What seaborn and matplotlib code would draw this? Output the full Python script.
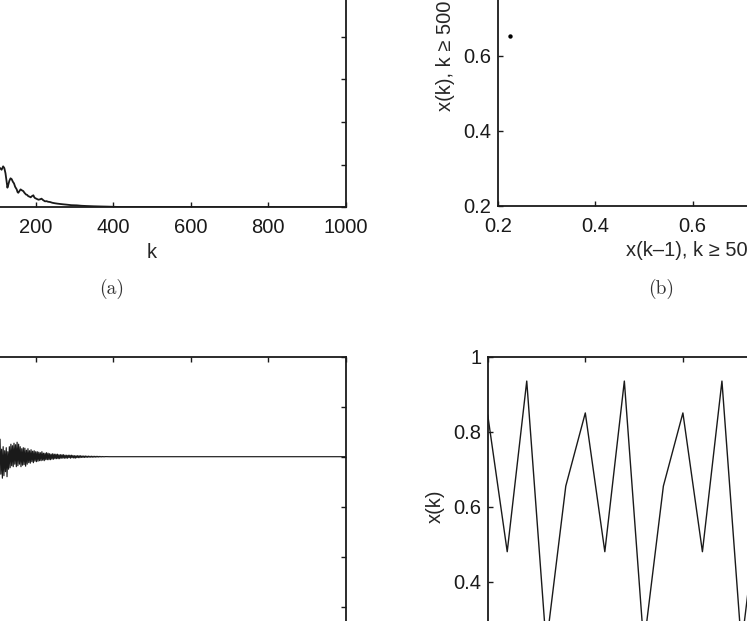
import numpy as np
import pandas as pd
import matplotlib
matplotlib.use("Agg")
import matplotlib.pyplot as plt
import seaborn as sns

# ---------------- data ----------------
# (a) decaying curve vs k
k_a = [100, 104, 108, 112, 116, 119, 122, 125, 127, 129, 132, 135, 138, 141, 144,
       147, 151, 153, 155, 158, 161, 164, 168, 171, 175, 178, 181, 184, 187, 190,
       194, 196, 198, 202, 207, 211, 215, 219, 224, 228, 232, 237, 243, 250, 256,
       263, 271, 280, 292, 306, 318, 332, 350, 366, 385, 400, 420, 1000]
y_a = [0.052, 0.047, 0.046, 0.044, 0.048, 0.046, 0.040, 0.030, 0.023, 0.026,
       0.031, 0.034, 0.033, 0.030, 0.028, 0.024, 0.021, 0.018, 0.017, 0.019,
       0.021, 0.020, 0.019, 0.017, 0.015, 0.0145, 0.013, 0.0125, 0.0117, 0.013,
       0.0141, 0.012, 0.0109, 0.010, 0.0089, 0.0093, 0.0101, 0.0085, 0.0070, 0.0072,
       0.0065, 0.0062, 0.0053, 0.0047, 0.0043, 0.0039, 0.0035, 0.0031, 0.0025, 0.0023,
       0.0018, 0.0015, 0.0012, 0.0010, 0.0008, 0.0006, 0.0003, 0.0]

# (b) return map, k >= 500 (period-5 orbit)
x_prev_b = [0.225, 0.652, 0.849, 0.480, 0.934]
x_k_b = [0.652, 0.849, 0.480, 0.934, 0.225]

# (c) oscillation settling to a constant
k_c = list(range(100, 381, 2)) + [390, 1000]
y_c = [0.040, -0.030, 0.047, -0.025, 0.035, -0.035,
       0.015, -0.043, 0.020, -0.038, 0.012, -0.030, 0.018, -0.040, 0.010, -0.025,
       0.020, -0.022, 0.025, -0.018, 0.022, -0.020, 0.027, -0.015, 0.024, -0.020,
       0.029, -0.018, 0.025, -0.015, 0.020, -0.020, 0.016, -0.017, 0.018, -0.016,
       0.017, -0.019, 0.013, -0.015, 0.016, -0.012, 0.012, -0.013, 0.014, -0.010,
       0.011, -0.012, 0.012, -0.009, 0.010,
       -0.010, 0.010, -0.009, 0.009, -0.008, 0.008, -0.008, 0.010, -0.007, 0.007,
       -0.008, 0.007, -0.006, 0.008, -0.006,
       0.007, -0.006, 0.006, -0.006, 0.005, -0.005, 0.006, -0.005, 0.005, -0.004,
       0.005, -0.004, 0.005, -0.004, 0.004, -0.004, 0.004, -0.003, 0.004, -0.003,
       0.004, -0.003, 0.003, -0.003, 0.003, -0.003, 0.003, -0.002, 0.003, -0.003,
       0.003, -0.002, 0.0025, -0.0025, 0.002, -0.003, 0.002, -0.002, 0.002, -0.002,
       0.002, -0.002, 0.002, -0.0015, 0.0015, -0.0015, 0.0015, -0.0015, 0.0015, -0.0012,
       0.0012, -0.0012, 0.0012, -0.001, 0.001, -0.001, 0.001, -0.001, 0.0009, -0.0009,
       0.0008, -0.0008, 0.0008, -0.0007, 0.0007, -0.0006, 0.0006, -0.0005, 0.0005, -0.0004,
       0.0004, -0.0003, 0.0003, -0.0002, 0.0002,
       0.0, 0.0]

# (d) x(k) time series, last samples
k_d = list(range(980, 1001))
x_d = [0.845, 0.480, 0.935, 0.230, 0.655,
       0.850, 0.480, 0.935, 0.230, 0.655,
       0.850, 0.480, 0.935, 0.230, 0.655,
       0.850, 0.480, 0.935, 0.230, 0.655,
       0.850]

# tick labels
unit_ticks = [0.2, 0.4, 0.6, 0.8, 1.0]
unit_labels = ["0.2", "0.4", "0.6", "0.8", "1"]
k_ticks = [0, 200, 400, 600, 800, 1000]

# ---------------- styling ----------------
sns.set_theme(style="white")
plt.rcParams["font.family"] = ["Liberation Sans", "DejaVu Sans"]

W, H = 747, 621
fig = plt.figure(figsize=(W / 100, H / 100), dpi=100)
fig.patch.set_facecolor("white")


def px_axes(left, top, width, height):
    return fig.add_axes([left / W, 1 - (top + height) / H, width / W, height / H])


LC = "#1a1a1a"
FS = 14.5


def style(ax):
    for s in ax.spines.values():
        s.set_visible(True)
        s.set_color(LC)
        s.set_linewidth(1.3)
    ax.tick_params(direction="in", length=3.8, width=1.0, colors=LC,
                   labelsize=FS, top=True, right=True, bottom=True, left=True)
    ax.tick_params(axis="x", pad=8)
    ax.tick_params(axis="y", pad=4.5)
    ax.set_facecolor("white")
    ax.grid(False)


# (a)
ax_a = px_axes(-41.8, 207.3 - 298.5, 387.5, 298.5)
sns.lineplot(x=k_a, y=y_a, ax=ax_a, color=LC, linewidth=1.3, sort=False)
ax_a.set_xlim(0, 1000)
ax_a.set_ylim(0, 0.35)
ax_a.set_xticks(k_ticks)
ax_a.set_yticks(np.arange(0, 0.351, 0.05))
ax_a.set_xlabel("k", fontsize=FS, labelpad=4)
ax_a.set_ylabel("")
style(ax_a)

# (b)
ax_b = px_axes(497.7, 205.7 - 300, 390, 300)
sns.scatterplot(x=x_prev_b, y=x_k_b, ax=ax_b, color="black", s=10, marker="o",
                edgecolor="black", linewidth=0)
ax_b.set_xlim(0.2, 1.0)
ax_b.set_ylim(0.2, 1.0)
ax_b.set_xticks(unit_ticks)
ax_b.set_yticks(unit_ticks)
ax_b.set_xticklabels(unit_labels)
ax_b.set_yticklabels(unit_labels)
ax_b.set_xlabel("x(k–1), k ≥ 500", fontsize=FS, labelpad=4)
ax_b.set_ylabel("x(k), k ≥ 500", fontsize=FS, labelpad=6)
style(ax_b)

# (c)
ax_c = px_axes(-41.8, 356.7, 387.5, 300)
sns.lineplot(x=k_c, y=y_c, ax=ax_c, color=LC, linewidth=0.85, sort=False)
ax_c.set_xlim(0, 1000)
ax_c.set_ylim(-0.4, 0.2)
ax_c.set_xticks(k_ticks)
ax_c.set_yticks(np.arange(-0.4, 0.201, 0.1))
ax_c.set_xlabel("k", fontsize=FS, labelpad=4)
ax_c.set_ylabel("")
style(ax_c)

# (d)
ax_d = px_axes(487.7, 356.7, 390.4, 300)
sns.lineplot(x=k_d, y=x_d, ax=ax_d, color=LC, linewidth=1.0, sort=False)
ax_d.set_xlim(980, 1000)
ax_d.set_ylim(0.2, 1.0)
ax_d.set_xticks([980, 985, 990, 995, 1000])
ax_d.set_yticks(unit_ticks)
ax_d.set_yticklabels(unit_labels)
ax_d.set_xlabel("k", fontsize=FS, labelpad=4)
ax_d.set_ylabel("x(k)", fontsize=FS, labelpad=6)
style(ax_d)

# captions
fig.text(112 / W, 1 - 289 / H, "(a)", ha="center", va="center", fontsize=14,
         family=["cmr10", "DejaVu Serif"], color="#333333")
fig.text(661 / W, 1 - 289 / H, "(b)", ha="center", va="center", fontsize=14,
         family=["cmr10", "DejaVu Serif"], color="#333333")

fig.savefig("out.png", dpi=100, facecolor="white")
